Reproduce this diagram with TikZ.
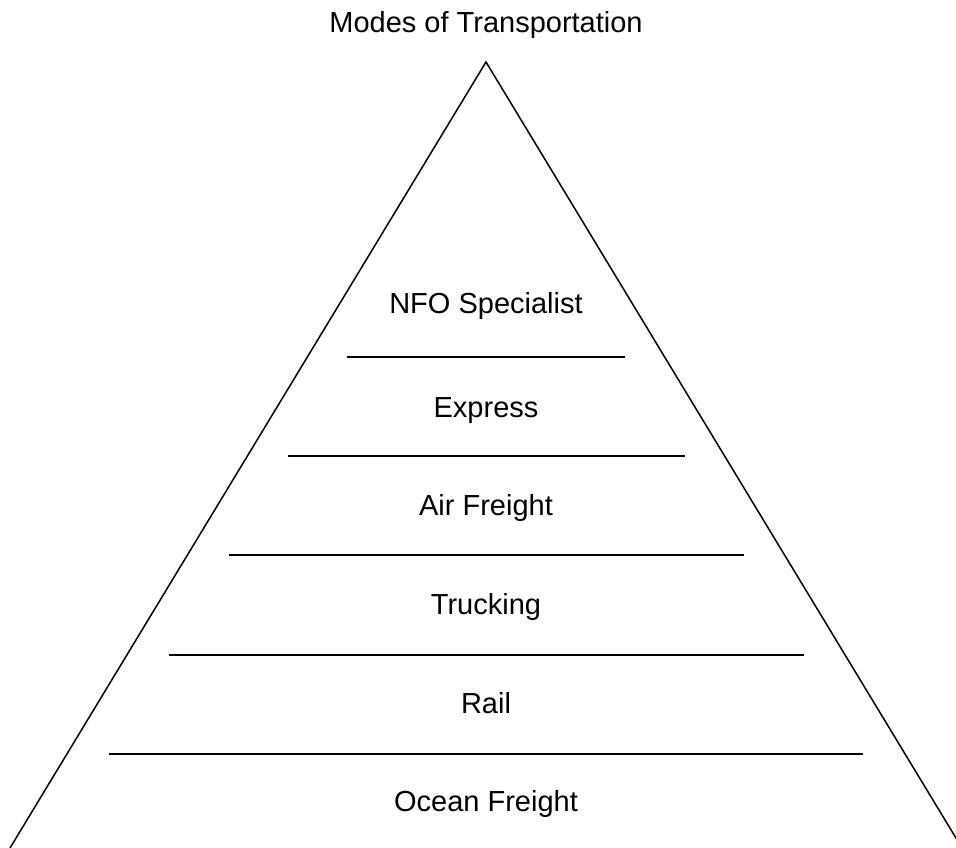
\documentclass[tikz,border=0pt]{standalone}
\usepackage{fontspec}
\setmainfont{Liberation Sans}
\begin{document}
\begin{tikzpicture}[x=1pt,y=-1pt,
  lbl/.style={anchor=base,inner sep=0pt,font=\fontsize{29}{34}\selectfont},
  sep/.style={line width=1.5pt}]
\useasboundingbox (0,0) rectangle (956,848);
\fill[white] (0,0) rectangle (956,848);
\begin{scope}
\clip (0,0) rectangle (956,848);
\coordinate (apex) at (486,62);
\coordinate (bl) at (10,848);
\coordinate (br) at (962,848);
\draw[line width=1.5pt] (bl) -- (apex) -- (br);
\end{scope}
\node[lbl] (title) at (486,33) {Modes of Transportation};
\node[lbl] (nfo) at (486,313) {NFO Specialist};
\node[lbl] (exp) at (486,417) {Express};
\node[lbl] (air) at (486,515) {Air Freight};
\node[lbl] (truck) at (486,614) {Trucking};
\node[lbl] (rail) at (486,713) {Rail};
\node[lbl] (ocean) at (486,811) {Ocean Freight};
\draw[sep] (347,357) -- (625,357);
\draw[sep] (288,456) -- (685,456);
\draw[sep] (229,555) -- (744,555);
\draw[sep] (169,655) -- (804,655);
\draw[sep] (109,754) -- (863,754);
\end{tikzpicture}
\end{document}
